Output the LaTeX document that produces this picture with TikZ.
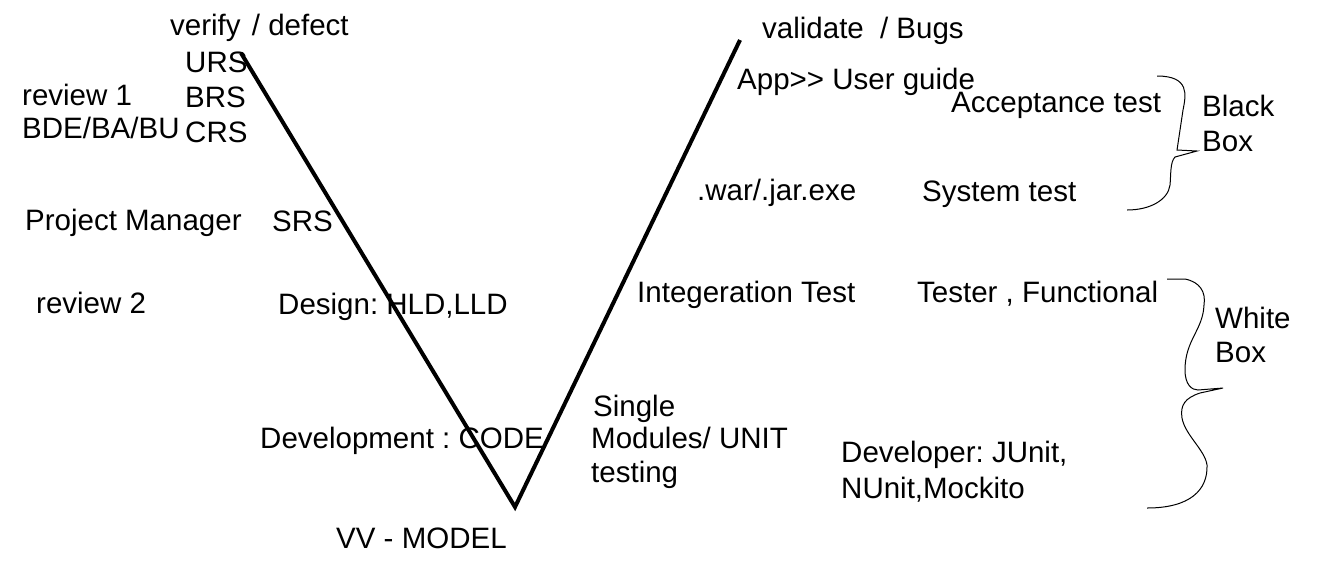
\documentclass[tikz,border=0pt]{standalone}
\usepackage{fontspec}
\setmainfont{Liberation Sans}
\frenchspacing

\begin{document}
\begin{tikzpicture}[x=1pt, y=-1pt,
    txt/.style={anchor=base west, inner sep=0pt, font=\fontsize{29.5}{35}\selectfont},
    vline/.style={line width=4pt},
    brace/.style={line width=1pt}]

    \useasboundingbox (0, 0) rectangle (1332, 566);

    % the V
    \coordinate (vleft) at (241, 53);
    \coordinate (vbottom) at (515, 507);
    \coordinate (vright) at (740, 40);
    \draw [vline] (vleft) -- (vbottom) -- (vright);

    % left side: verification
    \node [txt] (verify) at (170, 35) {verify\hspace{3pt} / defect};
    \node [txt] (urs) at (185, 72) {URS};
    \node [txt] (brs) at (185, 107) {BRS};
    \node [txt] (crs) at (185, 142) {CRS};
    \node [txt] (review1) at (22, 105) {review 1};
    \node [txt] (bde) at (22, 138) {BDE/BA/BU};
    \node [txt] (pm) at (25, 230) {Project Manager};
    \node [txt] (srs) at (272, 231) {SRS};
    \node [txt] (review2) at (36, 313) {review 2};
    \node [txt] (design) at (278, 314) {Design: HLD,LLD};
    \node [txt] (code) at (260, 448) {Development : CODE};
    \node [txt] (model) at (336, 548) {VV - MODEL};

    % right side: validation
    \node [txt] (validate) at (762, 38) {validate\hspace{8pt} / Bugs};
    \node [txt] (guide) at (737, 89) {App>\kern0pt> User guide};
    \node [txt] (acceptance) at (951, 112) {Acceptance test};
    \node [txt] (war) at (697, 200) {.war/.jar.exe};
    \node [txt] (system) at (922, 201) {System test};
    \node [txt] (integration) at (637, 302) {Integeration Test};
    \node [txt] (tester) at (917, 302) {Tester , Functional};
    \node [txt] (single) at (593, 416) {Single};
    \node [txt] (modules) at (591, 448) {Modules/ UNIT};
    \node [txt] (testing) at (591, 482) {testing};
    \node [txt] (developer) at (841, 462) {Developer: JUnit,};
    \node [txt] (nunit) at (841, 498) {NUnit,Mockito};

    % braces
    \draw [brace] (1157, 76) .. controls (1190, 76) and (1186, 95) .. (1183, 110)
        -- (1177, 150) -- (1197, 151) -- (1175, 157)
        .. controls (1170, 162) and (1171, 175) .. (1170, 185)
        .. controls (1168, 200) and (1150, 210) .. (1127, 210);
    \node [txt] (black) at (1202, 116) {Black};
    \node [txt] (bbox) at (1202, 151) {Box};

    \draw [brace] (1167, 279) -- (1185, 279)
        .. controls (1200, 282) and (1206, 292) .. (1204, 305)
        .. controls (1203, 330) and (1185, 340) .. (1185, 370)
        .. controls (1185, 385) and (1192, 390) .. (1198, 390)
        -- (1223, 388) -- (1200, 393)
        .. controls (1185, 398) and (1180, 405) .. (1182, 418)
        .. controls (1185, 435) and (1205, 450) .. (1207, 465)
        .. controls (1208, 490) and (1190, 508) .. (1147, 508);
    \node [txt] (white) at (1215, 328) {White};
    \node [txt] (wbox) at (1215, 362) {Box};

\end{tikzpicture}
\end{document}
